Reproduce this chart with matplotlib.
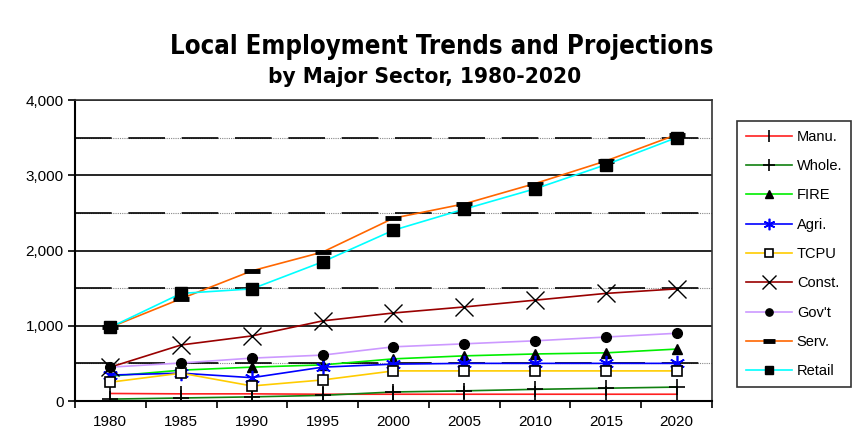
import matplotlib
matplotlib.use('Agg')
import matplotlib.pyplot as plt
from matplotlib import font_manager
from matplotlib.font_manager import FontProperties

years = ['1980', '1985', '1990', '1995', '2000', '2005', '2010', '2015', '2020']

manu = [100, 95, 95, 90, 90, 90, 90, 90, 90]
whole = [25, 40, 55, 75, 120, 135, 155, 170, 185]
fire = [330, 410, 450, 480, 560, 600, 625, 640, 690]
agri = [345, 370, 310, 450, 490, 500, 500, 500, 500]
tcpu = [250, 370, 200, 280, 400, 400, 400, 400, 400]
const = [450, 745, 865, 1065, 1170, 1250, 1340, 1430, 1490]
govt = [450, 505, 570, 610, 720, 760, 800, 850, 900]
serv = [980, 1360, 1730, 1980, 2430, 2620, 2890, 3190, 3540]
retail = [980, 1430, 1490, 1850, 2270, 2550, 2820, 3140, 3500]

plt.rcParams['font.family'] = ['Liberation Sans', 'DejaVu Sans']

# look for a condensed bold face for the headings
title_font = None
for f in font_manager.fontManager.ttflist:
    low = f.fname.lower()
    if ('narrow' in low or 'condensed' in low) and 'bold' in low and 'italic' not in low:
        title_font = FontProperties(fname=f.fname)
        break
if title_font is None:
    title_font = FontProperties(family='Liberation Sans', weight='bold')

fig = plt.figure(figsize=(8.52, 4.41), dpi=100)
ax = fig.add_axes([0.088, 0.0907, 0.7477, 0.6825])

x = list(range(len(years)))

# series: label, data, line colour, marker, marker size, face colour, marker edge width
series = [
    ('Manu.', manu, '#ff2020', '|', 12, 'black', 1.2),
    ('Whole.', whole, '#108010', '+', 12, 'black', 1.2),
    ('FIRE', fire, '#00ee00', '^', 7, 'black', 1.0),
    ('Agri.', agri, '#0000ff', (6, 2, 0), 11, '#0000ff', 1.2),
    ('TCPU', tcpu, '#ffcc00', 's', 7, 'white', 1.2),
    ('Const.', const, '#990000', 'x', 13, 'black', 1.0),
    ("Gov't", govt, '#cc99ff', 'o', 7, 'black', 1.0),
    ('Serv.', serv, '#ff6600', '_', 11, 'black', 3.5),
    ('Retail', retail, '#00ffff', 's', 8.5, 'black', 1.0),
]

for label, vals, col, mk, ms, fc, mew in series:
    ec = '#0000ff' if label == 'Agri.' else 'black'
    ax.plot(x, vals, color=col, lw=1.2, marker=mk, markersize=ms,
            markerfacecolor=fc, markeredgecolor=ec, markeredgewidth=mew,
            label=label, zorder=3)

# gridlines: solid every 1000, broken every 500 in between
for v in [1000, 2000, 3000, 4000]:
    ax.axhline(v, color='black', lw=1.2, zorder=1)
for v in [500, 1500, 2500, 3500]:
    ax.axhline(v, color='#888888', lw=0.8, ls=(0, (1, 1)), zorder=1)
    ax.axhline(v, color='black', lw=1.2, ls=(0, (22, 10)), zorder=1)

ax.set_xlim(-0.5, 8.5)
ax.set_ylim(0, 4000)
ax.set_yticks([0, 1000, 2000, 3000, 4000])
ax.set_yticklabels(['0', '1,000', '2,000', '3,000', '4,000'], fontsize=11)
ax.set_xticks(x)
ax.set_xticklabels(years, fontsize=11)
ax.set_xticks([i - 0.5 for i in range(len(years) + 1)], minor=True)
ax.tick_params(axis='x', which='major', length=0, pad=10)
ax.tick_params(axis='x', which='minor', length=5, width=1.2, direction='out')
ax.tick_params(axis='y', length=5, width=1.2, direction='out', pad=3)

for s in ['left', 'bottom']:
    ax.spines[s].set_linewidth(1.5)
for s in ['top', 'right']:
    ax.spines[s].set_linewidth(1.2)
    ax.spines[s].set_color('#333333')

leg = ax.legend(loc='upper left', bbox_to_anchor=(737 / 852, 1 - 121 / 441),
                bbox_transform=fig.transFigure, fontsize=10.5, frameon=True,
                fancybox=False, edgecolor='black', handlelength=3.2,
                handletextpad=0.3, labelspacing=1.05, borderpad=0.6,
                borderaxespad=0)
leg.get_frame().set_linewidth(1.2)
for h in leg.legend_handles:
    h.set_markersize(h.get_markersize() * 0.75)

t1 = fig.text(0.519, 0.893, 'Local Employment Trends and Projections',
              ha='center', va='center', fontproperties=title_font, fontsize=20)
t2 = fig.text(0.498, 0.826, 'by Major Sector, 1980-2020',
              ha='center', va='center', fontproperties=title_font, fontsize=13)

# size the headings to their intended widths in pixels
renderer = fig.canvas.get_renderer()
for t, width in [(t1, 543), (t2, 312)]:
    w = t.get_window_extent(renderer).width
    t.set_fontsize(t.get_fontsize() * width / w)

fig.savefig('out.png', dpi=100)
